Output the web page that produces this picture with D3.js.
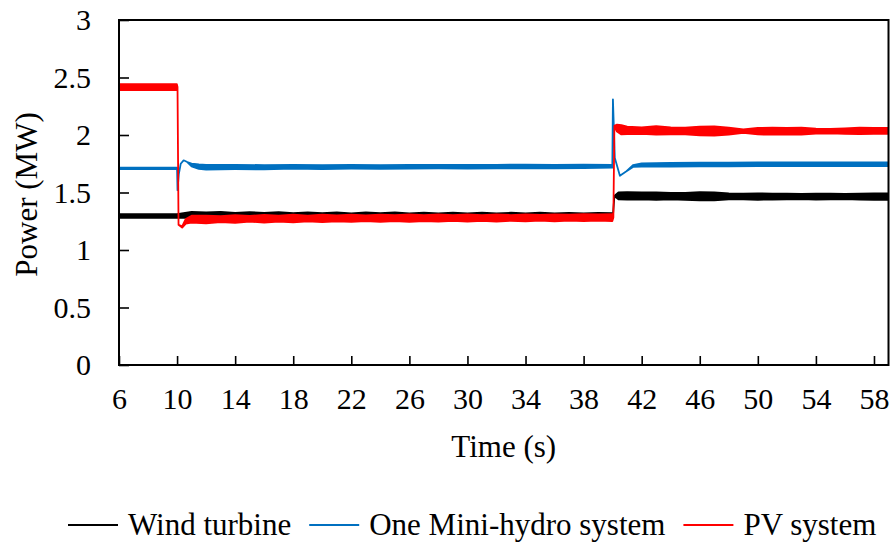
<!DOCTYPE html>
<html>
<head>
<meta charset="utf-8">
<script src="https://cdn.jsdelivr.net/npm/d3@7"></script>
<style>
  body { margin: 0; background: #fff; }
  text { font-family: "Liberation Serif", "Times New Roman", serif; fill: #000; }
</style>
</head>
<body>
<svg id="chart" width="893" height="544"></svg>
<script>
// Axis ticks
const timeTicks = [6, 10, 14, 18, 22, 26, 30, 34, 38, 42, 46, 50, 54, 58];
const powerTicks = [0, 0.5, 1, 1.5, 2, 2.5, 3];

// Wind turbine: time (s), mean power (MW), half-width of the oscillation band (MW)
const windTime = [6, 10, 11, 12, 13, 14, 15, 16, 17, 18, 19, 20, 21, 22, 23, 24, 25, 26, 27, 28, 29, 30, 31, 32, 33, 34, 35, 36, 37, 38, 39, 39.95, 40.02, 40.12, 40.4, 41, 42, 43, 44, 45, 46, 47, 48, 49, 50, 51, 52, 53, 54, 55, 56, 57, 58, 59];
const windPower = [1.295, 1.295, 1.305, 1.306, 1.304, 1.303, 1.302, 1.302, 1.301, 1.300, 1.300, 1.300, 1.300, 1.299, 1.299, 1.299, 1.298, 1.298, 1.298, 1.298, 1.298, 1.298, 1.298, 1.298, 1.298, 1.298, 1.298, 1.298, 1.298, 1.298, 1.298, 1.298, 1.298, 1.470, 1.470, 1.470, 1.470, 1.468, 1.468, 1.467, 1.467, 1.466, 1.466, 1.465, 1.465, 1.465, 1.465, 1.465, 1.465, 1.465, 1.465, 1.465, 1.465, 1.465];
const windSpread = [0.016, 0.016, 0.026, 0.02, 0.028, 0.02, 0.027, 0.02, 0.028, 0.021, 0.027, 0.02, 0.028, 0.02, 0.027, 0.021, 0.028, 0.02, 0.027, 0.02, 0.027, 0.02, 0.026, 0.02, 0.026, 0.02, 0.026, 0.02, 0.025, 0.02, 0.024, 0.022, 0, 0, 0.03, 0.032, 0.03, 0.033, 0.028, 0.03, 0.036, 0.034, 0.026, 0.024, 0.028, 0.026, 0.024, 0.022, 0.026, 0.024, 0.022, 0.026, 0.028, 0.028];

// One mini-hydro system
const hydroTime = [6, 10.0, 10.03, 10.12, 10.25, 10.45, 10.7, 11.0, 11.5, 12, 14, 16, 18, 20, 22, 24, 26, 28, 30, 32, 34, 36, 38, 39.98, 40.02, 40.15, 40.5, 40.9, 41.4, 42, 44, 46, 48, 50, 52, 54, 56, 58, 59];
const hydroPower = [1.71, 1.71, 1.52, 1.66, 1.75, 1.78, 1.765, 1.74, 1.725, 1.72, 1.722, 1.72, 1.724, 1.72, 1.723, 1.722, 1.724, 1.725, 1.724, 1.725, 1.726, 1.725, 1.727, 1.728, 2.31, 1.80, 1.645, 1.68, 1.73, 1.74, 1.742, 1.743, 1.744, 1.745, 1.745, 1.745, 1.746, 1.746, 1.746];
const hydroSpread = [0.006, 0.006, 0, 0, 0, 0, 0, 0.012, 0.02, 0.02, 0.019, 0.018, 0.017, 0.017, 0.016, 0.016, 0.016, 0.016, 0.016, 0.016, 0.016, 0.016, 0.015, 0.012, 0, 0, 0, 0, 0.008, 0.014, 0.016, 0.016, 0.016, 0.016, 0.016, 0.016, 0.016, 0.016, 0.016];

// PV system
const pvTime = [6, 9.98, 10.03, 10.1, 10.35, 10.6, 11, 12, 13, 14, 15, 16, 17, 18, 19, 20, 21, 22, 23, 24, 25, 26, 27, 28, 29, 30, 31, 32, 33, 34, 35, 36, 37, 38, 39, 39.98, 40.05, 40.12, 40.3, 40.6, 41, 42, 43, 44, 45, 46, 47, 48, 49, 50, 51, 52, 53, 54, 55, 56, 57, 58, 59];
const pvPower = [2.417, 2.417, 2.417, 1.22, 1.20, 1.25, 1.268, 1.265, 1.268, 1.27, 1.272, 1.272, 1.273, 1.274, 1.274, 1.275, 1.275, 1.276, 1.276, 1.276, 1.277, 1.277, 1.277, 1.278, 1.278, 1.278, 1.278, 1.279, 1.279, 1.28, 1.28, 1.28, 1.281, 1.282, 1.282, 1.282, 1.282, 2.08, 2.06, 2.045, 2.04, 2.038, 2.04, 2.036, 2.035, 2.035, 2.034, 2.034, 2.033, 2.033, 2.033, 2.034, 2.034, 2.034, 2.034, 2.034, 2.035, 2.035, 2.035];
const pvSpread = [0.026, 0.026, 0, 0, 0.005, 0.02, 0.03, 0.034, 0.026, 0.034, 0.025, 0.033, 0.025, 0.033, 0.025, 0.033, 0.025, 0.032, 0.025, 0.032, 0.025, 0.032, 0.025, 0.031, 0.025, 0.031, 0.025, 0.031, 0.025, 0.03, 0.025, 0.03, 0.026, 0.03, 0.027, 0.03, 0, 0, 0.03, 0.04, 0.032, 0.028, 0.036, 0.03, 0.03, 0.038, 0.04, 0.03, 0.015, 0.028, 0.03, 0.028, 0.03, 0.022, 0.02, 0.024, 0.028, 0.026, 0.026];

const seriesNames = ["Wind turbine", "One Mini-hydro system", "PV system"];
const seriesColors = ["#000000", "#0070C0", "#FF0000"];

const svg = d3.select("#chart");
const plot = { left: 119, right: 888.5, top: 20, bottom: 365 };

const x = d3.scaleLinear().domain([6, 59]).range([plot.left, plot.right]);
const y = d3.scaleLinear().domain([0, 3]).range([plot.bottom, plot.top]);

svg.append("defs").append("clipPath").attr("id", "plot-clip")
  .append("rect")
  .attr("x", plot.left).attr("y", plot.top - 2)
  .attr("width", plot.right - plot.left).attr("height", plot.bottom - plot.top + 2);

// Each trace is drawn as its oscillation envelope (mean ± spread) outlined with a thin stroke,
// so fast transients with zero spread appear as plain lines.
const band = d3.area()
  .x(d => x(d.t))
  .y0(d => y(d.p - d.s))
  .y1(d => y(d.p + d.s))
  .curve(d3.curveLinear);

function rows(times, powers, spreads) {
  return times.map((t, i) => ({ t: t, p: powers[i], s: spreads[i] }));
}

const traces = [
  rows(windTime, windPower, windSpread),
  rows(hydroTime, hydroPower, hydroSpread),
  rows(pvTime, pvPower, pvSpread)
];

const traceLayer = svg.append("g").attr("clip-path", "url(#plot-clip)");
traces.forEach((data, i) => {
  traceLayer.append("path")
    .datum(data)
    .attr("d", band)
    .attr("fill", seriesColors[i])
    .attr("stroke", seriesColors[i])
    .attr("stroke-width", 1.8)
    .attr("stroke-linejoin", "round");
});

// Axes with inward ticks
const xAxis = svg.append("g")
  .attr("transform", `translate(0,${plot.bottom})`)
  .call(d3.axisBottom(x).tickValues(timeTicks).tickSizeInner(-9).tickSizeOuter(0)
    .tickPadding(22.5).tickFormat(d3.format("d")));

const yAxis = svg.append("g")
  .attr("transform", `translate(${plot.left},0)`)
  .call(d3.axisLeft(y).tickValues(powerTicks).tickSizeInner(-10).tickSizeOuter(0)
    .tickPadding(28).tickFormat(d => String(d)));

[xAxis, yAxis].forEach(g => {
  g.attr("font-family", null).attr("font-size", null);
  g.select(".domain").remove();
  g.selectAll(".tick line").attr("stroke", "#000").attr("stroke-width", 1.6);
  g.selectAll(".tick text").style("font-size", "30px");
});

// Plot frame
svg.append("rect")
  .attr("x", plot.left).attr("y", plot.top)
  .attr("width", plot.right - plot.left).attr("height", plot.bottom - plot.top)
  .attr("fill", "none").attr("stroke", "#000").attr("stroke-width", 2);

// Axis titles
svg.append("text")
  .attr("x", (plot.left + plot.right) / 2).attr("y", 457)
  .attr("text-anchor", "middle").style("font-size", "31px")
  .text("Time (s)");

svg.append("text")
  .attr("transform", `translate(37,${(plot.top + plot.bottom) / 2 + 2}) rotate(-90)`)
  .attr("text-anchor", "middle").style("font-size", "31px")
  .text("Power (MW)");

// Legend
const legend = svg.append("g");
let lx = 68;
const ly = 525;
seriesNames.forEach((name, i) => {
  legend.append("line")
    .attr("x1", lx).attr("x2", lx + 50).attr("y1", ly).attr("y2", ly)
    .attr("stroke", seriesColors[i]).attr("stroke-width", 2);
  const t = legend.append("text")
    .attr("x", lx + 60).attr("y", ly + 10)
    .style("font-size", "31px")
    .text(name);
  lx += 60 + t.node().getComputedTextLength() + 18;
});
</script>
</body>
</html>
